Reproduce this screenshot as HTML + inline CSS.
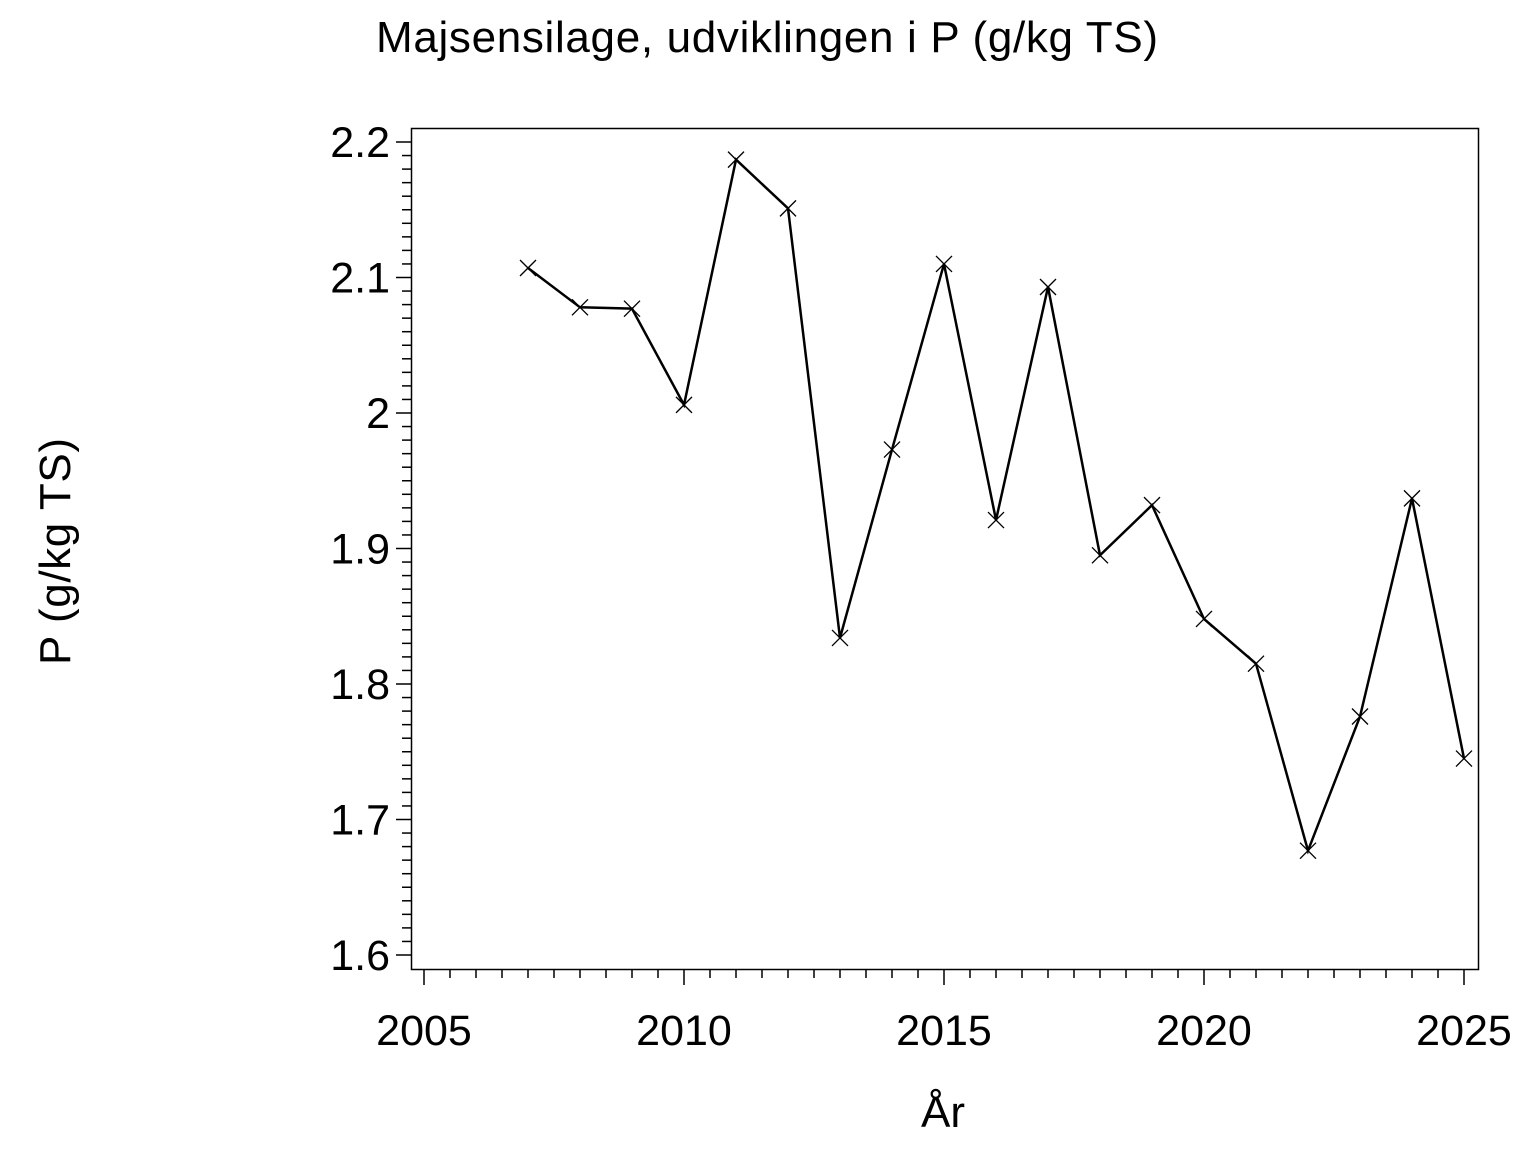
<!DOCTYPE html>
<html><head><style>body{margin:0;background:#fff}</style></head><body>
<svg width="1536" height="1152" xmlns="http://www.w3.org/2000/svg" font-family="Liberation Sans, Arial, sans-serif">
<rect x="0" y="0" width="1536" height="1152" fill="#fff"/>
<text x="376" y="52" font-size="44" textLength="782" lengthAdjust="spacing">Majsensilage,  udviklingen  i  P  (g/kg  TS)</text>
<text x="943" y="1127" font-size="44" text-anchor="middle">År</text>
<text transform="translate(70,665) rotate(-90)" font-size="44" textLength="227" lengthAdjust="spacing">P  (g/kg  TS)</text>
<rect x="411.5" y="128.5" width="1067" height="841" fill="none" stroke="#000" stroke-width="1.5"/>
<g id="ticks" stroke="#000" stroke-width="1.5"></g>
<g id="labels" font-size="43"></g>
<polyline id="line" fill="none" stroke="#000" stroke-width="2.5"/>
<g id="marks" stroke="#000" stroke-width="1.3"></g>
<script>
var ns="http://www.w3.org/2000/svg";
var T=document.getElementById('ticks'),L=document.getElementById('labels');
function ln(g,x1,y1,x2,y2){var e=document.createElementNS(ns,'line');e.setAttribute('x1',x1);e.setAttribute('y1',y1);e.setAttribute('x2',x2);e.setAttribute('y2',y2);g.appendChild(e);}
function tx(x,y,s,a){var e=document.createElementNS(ns,'text');e.setAttribute('x',x);e.setAttribute('y',y);e.setAttribute('text-anchor',a);e.textContent=s;L.appendChild(e);}
function X(yr){return 424+(yr-2005)*52;}
function Y(v){return 142+(2.2-v)*1355;}
for(var i=0;i<=40;i++){var x=X(2005+i*0.5);ln(T,x,970,x,i%10==0?985:978);}
for(var i=0;i<=60;i++){var y=Y(1.6+i*0.01);ln(T,411,y,i%10==0?396:402,y);}
['2005','2010','2015','2020','2025'].forEach(function(s,i){tx(X(2005+5*i),1045,s,'middle');});
['1.6','1.7','1.8','1.9','2','2.1','2.2'].forEach(function(s,i){tx(390,Y(1.6+i*0.1)+15,s,'end');});
var d=[[2007,2.107],[2008,2.078],[2009,2.077],[2010,2.006],[2011,2.187],[2012,2.151],[2013,1.834],[2014,1.973],[2015,2.110],[2016,1.921],[2017,2.093],[2018,1.895],[2019,1.932],[2020,1.848],[2021,1.815],[2022,1.677],[2023,1.776],[2024,1.937],[2025,1.745]];
var pts=d.map(function(p){return X(p[0])+','+Y(p[1]);}).join(' ');
document.getElementById('line').setAttribute('points',pts);
var M=document.getElementById('marks');
d.forEach(function(p){var x=X(p[0]),y=Y(p[1]);ln(M,x-8,y-8,x+8,y+8);ln(M,x-8,y+8,x+8,y-8);});
</script>
</svg>
</body></html>
